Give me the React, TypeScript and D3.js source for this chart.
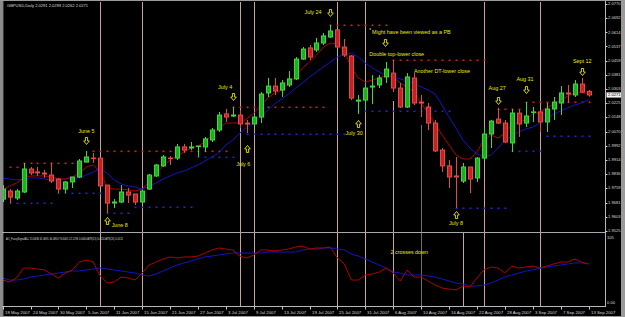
import React from 'react';
import * as d3 from 'd3';

const W = 625;
const H = 317;

// ---------- data ----------
const dateLabels = ["18 May 2007","24 May 2007","30 May 2007","5 Jun 2007","11 Jun 2007","15 Jun 2007","21 Jun 2007","27 Jun 2007","3 Jul 2007","9 Jul 2007","13 Jul 2007","19 Jul 2007","25 Jul 2007","31 Jul 2007","6 Aug 2007","10 Aug 2007","16 Aug 2007","22 Aug 2007","28 Aug 2007","3 Sep 2007","7 Sep 2007","13 Sep 2007"];
const dateLabelBars = [0,4,8,12,16,20,24,28,32,36,40,44,48,52,56,60,64,68,72,76,80,84];

const opens = [1.9700,1.9744,1.9706,1.9739,1.9865,1.9849,1.9843,1.9832,1.9810,1.9755,
1.9794,1.9821,1.9903,1.9925,1.9925,1.9777,1.9673,1.9684,1.9739,1.9728,
1.9684,1.9755,1.9827,1.9882,1.9925,1.9925,1.9986,1.9975,1.9986,1.9986,
2.0024,2.0079,2.0167,2.0150,2.0161,2.0117,2.0112,2.0150,2.0282,2.0320,
2.0298,2.0326,2.0359,2.0468,2.0529,2.0518,2.0556,2.0589,2.0628,2.0534,
2.0485,2.0232,2.0243,2.0309,2.0326,2.0370,2.0391,2.0309,2.0205,2.0364,
2.0232,2.0205,2.0117,1.9969,1.9882,1.9827,1.9799,1.9876,1.9816,1.9925,
2.0057,2.0139,2.0117,2.0008,2.0172,2.0117,2.0172,2.0178,2.0123,2.0194,
2.0227,2.0282,2.0271,2.0331,2.0291];
const highs = [1.9777,1.9755,1.9755,1.9898,1.9876,1.9876,1.9860,1.9898,1.9816,1.9799,
1.9821,1.9920,1.9964,1.9953,1.9931,1.9777,1.9700,1.9777,1.9761,1.9728,
1.9750,1.9838,1.9892,1.9942,1.9936,2.0002,2.0002,2.0013,1.9991,2.0041,
2.0090,2.0178,2.0194,2.0205,2.0189,2.0134,2.0161,2.0287,2.0364,2.0364,
2.0353,2.0402,2.0479,2.0534,2.0545,2.0584,2.0611,2.0655,2.0628,2.0578,
2.0490,2.0271,2.0337,2.0380,2.0380,2.0452,2.0463,2.0337,2.0391,2.0391,
2.0271,2.0227,2.0134,1.9980,1.9914,1.9931,1.9898,1.9876,1.9931,2.0095,
2.0134,2.0200,2.0134,2.0194,2.0189,2.0232,2.0205,2.0189,2.0227,2.0260,
2.0320,2.0326,2.0353,2.0364,2.0299];
const lows = [1.9684,1.9678,1.9695,1.9733,1.9832,1.9827,1.9816,1.9788,1.9733,1.9733,
1.9761,1.9816,1.9903,1.9898,1.9772,1.9624,1.9651,1.9678,1.9678,1.9668,
1.9684,1.9750,1.9821,1.9876,1.9887,1.9914,1.9953,1.9969,1.9931,1.9958,
2.0013,2.0068,2.0123,2.0150,2.0090,2.0062,2.0106,2.0117,2.0260,2.0271,
2.0260,2.0315,2.0353,2.0463,2.0463,2.0507,2.0545,2.0584,2.0529,2.0479,
2.0243,2.0167,2.0189,2.0221,2.0309,2.0337,2.0287,2.0200,2.0200,2.0216,
2.0150,2.0079,1.9958,1.9849,1.9761,1.9651,1.9788,1.9733,1.9794,1.9914,
1.9980,2.0112,2.0008,1.9958,2.0041,2.0095,2.0123,2.0068,2.0068,2.0134,
2.0161,2.0227,2.0260,2.0282,2.0262];
const closes = [1.9755,1.9711,1.9744,1.9865,1.9843,1.9838,1.9832,1.9799,1.9755,1.9794,
1.9821,1.9909,1.9931,1.9920,1.9772,1.9678,1.9684,1.9739,1.9722,1.9684,
1.9744,1.9832,1.9887,1.9931,1.9920,1.9986,1.9969,1.9986,1.9991,2.0030,
2.0079,2.0161,2.0150,2.0161,2.0112,2.0106,2.0150,2.0276,2.0320,2.0293,
2.0337,2.0359,2.0468,2.0523,2.0479,2.0556,2.0595,2.0622,2.0534,2.0490,
2.0254,2.0243,2.0309,2.0320,2.0364,2.0413,2.0309,2.0205,2.0370,2.0227,
2.0221,2.0117,1.9964,1.9882,1.9821,1.9816,1.9876,1.9810,1.9925,2.0057,
2.0128,2.0117,2.0013,2.0172,2.0112,2.0156,2.0178,2.0123,2.0194,2.0232,
2.0282,2.0271,2.0331,2.0287,2.0271];

const redMA = [1.9750,1.9772,1.9788,1.9816,1.9827,1.9827,1.9827,1.9821,1.9810,1.9810,
1.9821,1.9843,1.9876,1.9887,1.9849,1.9761,1.9755,1.9755,1.9750,1.9744,
1.9755,1.9794,1.9838,1.9882,1.9914,1.9936,1.9958,1.9980,1.9991,2.0013,
2.0052,2.0090,2.0117,2.0117,2.0117,2.0139,2.0172,2.0211,2.0254,2.0282,
2.0298,2.0331,2.0375,2.0419,2.0452,2.0490,2.0534,2.0556,2.0551,2.0512,
2.0419,2.0364,2.0342,2.0353,2.0364,2.0380,2.0370,2.0337,2.0315,2.0287,
2.0227,2.0172,2.0112,2.0052,1.9997,1.9942,1.9920,1.9920,1.9958,2.0024,
2.0052,2.0035,2.0062,2.0106,2.0123,2.0134,2.0167,2.0178,2.0200,2.0221,
2.0243,2.0265,2.0282,2.0282,2.0282];
const blueMA = [1.9816,1.9810,1.9805,1.9810,1.9816,1.9816,1.9810,1.9805,1.9805,1.9810,
1.9816,1.9816,1.9832,1.9849,1.9865,1.9843,1.9805,1.9783,1.9772,1.9766,
1.9755,1.9772,1.9788,1.9810,1.9827,1.9843,1.9854,1.9871,1.9887,1.9909,
1.9931,1.9953,1.9997,2.0024,2.0062,2.0095,2.0117,2.0150,2.0189,2.0221,
2.0249,2.0276,2.0309,2.0337,2.0370,2.0397,2.0425,2.0452,2.0479,2.0496,
2.0501,2.0479,2.0446,2.0419,2.0397,2.0380,2.0370,2.0359,2.0348,2.0331,
2.0315,2.0298,2.0276,2.0216,2.0150,2.0090,2.0024,1.9980,1.9947,1.9931,
1.9942,1.9980,2.0019,2.0046,2.0068,2.0084,2.0095,2.0117,2.0139,2.0167,
2.0183,2.0200,2.0216,2.0227,2.0243];

const oscRed = [36.0,32.9,39.2,54.8,54.8,53.3,51.7,45.4,39.2,47.0,
51.7,64.2,67.4,64.2,42.3,31.3,32.9,40.7,39.2,36.0,
47.0,59.5,64.2,68.9,72.1,70.5,72.1,72.1,73.6,78.3,
83.0,86.2,84.6,83.0,73.6,70.5,75.2,83.0,83.0,81.5,
83.0,84.6,87.7,89.3,84.6,86.2,86.2,87.7,70.5,61.1,
36.0,36.0,43.9,45.4,48.6,54.8,47.0,34.5,51.7,40.7,
40.7,34.5,28.2,23.5,21.9,20.4,26.6,25.1,39.2,51.7,
56.4,54.8,47.0,58.0,54.8,56.4,58.0,54.8,58.0,61.1,
64.2,64.2,68.9,64.2,61.1];
const oscBlue = [39.2,36.0,36.0,37.6,40.7,42.3,43.9,45.4,47.0,48.6,
50.1,50.1,51.7,53.3,54.8,53.3,51.7,50.1,48.6,47.0,
43.9,42.3,45.4,50.1,54.8,59.5,62.7,65.8,68.9,72.1,
73.6,75.2,76.8,78.3,78.3,78.3,78.3,78.3,79.9,79.9,
79.9,79.9,79.9,83.0,84.6,84.6,86.2,86.2,84.6,83.0,
76.8,73.6,68.9,64.2,59.5,54.8,48.6,47.0,43.9,43.9,
43.9,42.3,40.7,37.6,34.5,31.3,29.8,26.6,26.6,28.2,
31.3,36.0,40.7,43.9,47.0,50.1,51.7,54.8,56.4,58.0,
59.5,61.1,62.7,62.7,61.1];

const priceLabels = ["2.0770","2.0692","2.0614","2.0537","2.0459","2.0381","2.0303","2.0225","2.0148","2.0070","1.9992","1.9914","1.9836","1.9759","1.9681","1.9603","1.9525"];

// horizontal dotted levels: [price, fromBar, toBar]
const resistanceLevels: [number, number, number][] = [
  [1.9876, 1, 2], [1.9898, 3, 10], [1.9964, 13, 32], [2.0205, 33, 46],
  [2.0655, 47, 55], [2.0463, 56, 69], [2.0194, 71, 74], [2.0232, 75, 84]];
const supportLevels: [number, number, number][] = [
  [1.9678, 1, 7], [1.9733, 8, 14], [1.9624, 15, 18], [1.9657, 19, 27],
  [1.9931, 28, 33], [2.0057, 35, 49], [2.0183, 51, 64], [1.9651, 65, 72],
  [1.9964, 73, 77], [2.0046, 78, 84]];

// vertical marker lines: bar index, upper panel start price (null = full, NaN = none)
const vlineBars = [14, 20, 34, 36, 48, 52, 56, 60, 66, 69, 77];
const vlineUpperFrom = [null, null, null, null, null, null, 2.0238, 2.0106, NaN, null, null];

// annotations
const noteTexts = ["June 5","June 8","July 4","July 6","July 24","Might have been viewed as a PB","Double top-lower close","Another DT-lower close","July 30","Aug 27","Aug 31","Sept 12","July 8"];
const noteBars = [12, 16.8, 31.9, 34.5, 44.5, 58.6, 56.5, 63, 50.4, 70.9, 74.9, 83.1, 65];
const notePrices = [2.0073, 1.9552, 2.0309, 1.9892, 2.0721, 2.0611, 2.0490, 2.0402, 2.0057, 2.0304, 2.0353, 2.0452, 1.9563];
const arrowBars = [12, 15, 33, 35, 47, 54.8, 51, 71, 75, 83, 65];
const arrowPrices = [2.0019, 1.9580, 2.0260, 1.9975, 2.0721, 2.0556, 2.0112, 2.0238, 2.0298, 2.0397, 1.9613];
const arrowDirs = ["down","up","down","up","down","down","up","down","down","down","up"];

const header = "GBPUSD,Daily  2.0291 2.0299 2.0262 2.0271";
const oscHeader = "AO_FuzzySignalALL 55.6636 61.6691 46.4803 76.6001 22.1296 0.0000   ATR(13) 0.0110   ATR(20) 0.0125";
const oscNote = "2 crosses down";
const oscNoteBar = 58.3;
const oscNoteValue = 78.4;
const lastPrice = 2.0271;

// ---------- layout ----------
const PLOT_L = 3, PLOT_R = 605;
const MAIN_T = 2, MAIN_B = 232;
const SUB_T = 233, SUB_B = 306;

const FONT = "'Liberation Sans', Arial, sans-serif";
const YELLOW = "#e8e800";
const GREEN_FILL = "#1fae1f", GREEN_EDGE = "#3fd83f";
const RED_FILL = "#c42222", RED_EDGE = "#e44a4a";
const VLINE = "#c9a3a3";

function Arrow({ cx, cy, dir }: { cx: number; cy: number; dir: string }) {
  const h = 3.5, hw = 2.8, sw = 1.1;
  const s = dir === 'down' ? 1 : -1;
  const pts = [
    [cx - sw, cy - s * h], [cx + sw, cy - s * h], [cx + sw, cy], [cx + hw, cy],
    [cx, cy + s * h], [cx - hw, cy], [cx - sw, cy],
  ];
  return <path d={'M' + pts.map(p => p.join(',')).join('L') + 'Z'} fill="none" stroke={YELLOW} strokeWidth={0.9} />;
}

export default function App() {
  const x = d3.scaleLinear().domain([0, 84]).range([2.6, 588.5]);
  const y = d3.scaleLinear().domain([1.9525, 2.0770]).range([231, 4]);
  const yo = d3.scaleLinear().domain([0, 105]).range([303, 236]);

  const cxOf = (i: number) => Math.round(x(i)) + 0.5;

  const lineMain = d3.line<number>().x((_, i) => x(i)).y(d => y(d));
  const lineOsc = d3.line<number>().x((_, i) => x(i)).y(d => yo(d));

  const dots = (levels: [number, number, number][], color: string, key: string) =>
    levels.flatMap(([p, a, b], li) =>
      d3.range(a, b + 1).map(i => (
        <rect key={`${key}-${li}-${i}`} x={Math.round(x(i)) - 0.5} y={Math.round(y(p)) - 0.5} width={2} height={1.6} fill={color} />
      )));

  return (
    <svg width={W} height={H} viewBox={`0 0 ${W} ${H}`} style={{ position: 'fixed', left: 0, top: 0, background: '#000', display: 'block' }}>
      <defs>
        <clipPath id="mainClip"><rect x={PLOT_L} y={MAIN_T} width={PLOT_R - PLOT_L} height={MAIN_B - MAIN_T} /></clipPath>
        <clipPath id="subClip"><rect x={PLOT_L} y={SUB_T} width={PLOT_R - PLOT_L} height={SUB_B - SUB_T} /></clipPath>
      </defs>
      <rect x={0} y={0} width={W} height={H} fill="#000" />

      {/* vertical marker lines */}
      <g>
        {vlineBars.map((b, k) => {
          const from = vlineUpperFrom[k];
          const xx = cxOf(b);
          const col = b === 60 ? '#7a6a6a' : VLINE;
          return (
            <g key={'v' + k}>
              {!(typeof from === 'number' && isNaN(from)) && (
                <line x1={xx} x2={xx} y1={from == null ? MAIN_T : y(from)} y2={MAIN_B} stroke={col} strokeWidth={1} />
              )}
              <line x1={xx} x2={xx} y1={SUB_T} y2={SUB_B} stroke={col} strokeWidth={1} />
            </g>
          );
        })}
      </g>

      {/* main panel */}
      <g clipPath="url(#mainClip)">
        {dots(resistanceLevels, '#d42020', 'r')}
        {dots(supportLevels, '#2424d8', 's')}
        <path d={lineMain(blueMA) || ''} fill="none" stroke="#1414c8" strokeWidth={1} />
        <path d={lineMain(redMA) || ''} fill="none" stroke="#b00000" strokeWidth={1} />
        {opens.map((o, i) => {
          const c = closes[i];
          const bull = c >= o;
          const edge = bull ? GREEN_EDGE : RED_EDGE;
          const fill = bull ? GREEN_FILL : RED_FILL;
          const cx = cxOf(i);
          const top = y(Math.max(o, c));
          const bot = y(Math.min(o, c));
          const hgt = Math.max(1, bot - top);
          return (
            <g key={'c' + i}>
              <line x1={cx} x2={cx} y1={y(highs[i])} y2={y(lows[i])} stroke={edge} strokeWidth={1} />
              {hgt <= 2.2 ? (
                <rect x={cx - 2.5} y={top - 0.5} width={5} height={Math.max(1.5, hgt)} fill={edge} />
              ) : (
                <rect x={cx - 2} y={top} width={4} height={hgt} fill={fill} stroke={edge} strokeWidth={1} />
              )}
            </g>
          );
        })}
        {noteTexts.map((t, k) => (
          <text key={'n' + k} x={x(noteBars[k])} y={y(notePrices[k])} fill={YELLOW} fontFamily={FONT} fontSize={5.4}
            textAnchor="middle" dominantBaseline="middle">{t}</text>
        ))}
        {arrowBars.map((b, k) => (
          <Arrow key={'a' + k} cx={cxOf(b)} cy={y(arrowPrices[k])} dir={arrowDirs[k]} />
        ))}
        <circle cx={x(52.7)} cy={y(2.0633)} r={0.8} fill={YELLOW} />
        <text x={7} y={6.5} fill="#dcdcdc" fontFamily={FONT} fontSize={4.4} textLength={81} lengthAdjust="spacingAndGlyphs">{header}</text>
      </g>

      {/* sub panel */}
      <g clipPath="url(#subClip)">
        <path d={lineOsc(oscBlue) || ''} fill="none" stroke="#1414c8" strokeWidth={1} />
        <path d={lineOsc(oscRed) || ''} fill="none" stroke="#b00000" strokeWidth={1} />
        <text x={x(oscNoteBar)} y={yo(oscNoteValue)} fill={YELLOW} fontFamily={FONT} fontSize={5.4} textAnchor="middle" dominantBaseline="middle">{oscNote}</text>
        <text x={6} y={239.5} fill="#dcdcdc" fontFamily={FONT} fontSize={3.6} textLength={117} lengthAdjust="spacingAndGlyphs">{oscHeader}</text>
      </g>

      {/* panel separator and axes */}
      <line x1={0} x2={PLOT_R} y1={232.5} y2={232.5} stroke="#a8a8a8" strokeWidth={1} />
      <line x1={PLOT_R + 0.5} x2={PLOT_R + 0.5} y1={0} y2={SUB_B + 1} stroke="#b8b8b8" strokeWidth={1} />
      <line x1={0} x2={PLOT_R} y1={SUB_B + 0.5} y2={SUB_B + 0.5} stroke="#b8b8b8" strokeWidth={1} />

      {/* right price axis */}
      {priceLabels.map((l, k) => {
        const yy = y(+l);
        return (
          <g key={'p' + k}>
            <line x1={PLOT_R} x2={PLOT_R + 2.5} y1={Math.round(yy) + 0.5} y2={Math.round(yy) + 0.5} stroke="#c8c8c8" strokeWidth={1} />
            <text x={608} y={yy} fill="#d8d8d8" fontFamily={FONT} fontSize={4.1} dominantBaseline="middle">{l}</text>
          </g>
        );
      })}
      <rect x={606.5} y={y(lastPrice) - 2.6} width={15.5} height={5.2} fill="#f4f4f4" />
      <text x={608} y={y(lastPrice)} fill="#000" fontFamily={FONT} fontSize={4.1} dominantBaseline="middle">{lastPrice.toFixed(4)}</text>
      <text x={607} y={yo(105) + 1.5} fill="#d8d8d8" fontFamily={FONT} fontSize={4.1} dominantBaseline="middle">105</text>
      <text x={607} y={yo(0)} fill="#d8d8d8" fontFamily={FONT} fontSize={4.1} dominantBaseline="middle">0.00</text>

      {/* date axis */}
      {dateLabels.map((l, k) => {
        const xx = cxOf(dateLabelBars[k]);
        return (
          <g key={'d' + k}>
            <line x1={xx} x2={xx} y1={SUB_B + 1} y2={SUB_B + 3.5} stroke="#c8c8c8" strokeWidth={1} />
            <text x={xx + 1.5} y={312.5} fill="#d8d8d8" fontFamily={FONT} fontSize={4.3} dominantBaseline="middle">{l}</text>
          </g>
        );
      })}

      {/* window frame */}
      <rect x={0} y={0} width={2.5} height={H} fill="#8c8c8c" />
      <rect x={2.5} y={0} width={0.8} height={H} fill="#c8c8c8" />
      <rect x={0} y={0} width={W} height={1} fill="#9a9a9a" />
      <rect x={621} y={0} width={4} height={H} fill="#9a9a9a" />
      <rect x={0} y={316} width={W} height={1} fill="#9a9a9a" />
    </svg>
  );
}
